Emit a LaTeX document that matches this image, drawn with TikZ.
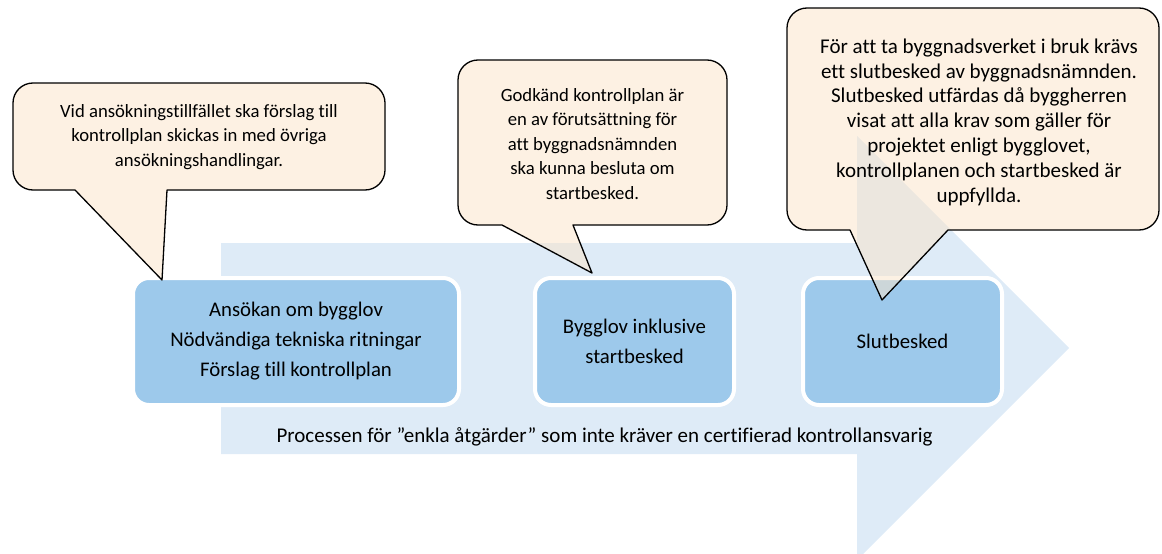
\documentclass[tikz,border=0pt]{standalone}
\usepackage{fontspec}
\setmainfont[Ligatures=NoCommon]{Carlito}
\definecolor{arrowblue}{HTML}{DEEBF7}
\definecolor{boxblue}{HTML}{9DC9EB}
\definecolor{cream}{RGB}{251,228,200}
\tikzset{
  stepbox/.style={draw=white, line width=4pt, fill=boxblue, rounded corners=16pt,
    align=center, font=\fontsize{20.8}{30}\selectfont, inner sep=0pt},
  bubble/.style={draw=black, line width=1.3pt, fill=cream, fill opacity=0.5, line join=round},
  bubbletext/.style={align=center, font=\fontsize{18.7}{24.5}\selectfont, inner sep=0pt},
}
% x1 y1 x2 y2 pointer-left pointer-right tip
\newcommand\bubblepath[7]{%
  \draw[bubble] (#5,#4) -- (#1+20,#4) arc[start angle=90,end angle=180,radius=20]
    -- (#1,#2+20) arc[start angle=180,end angle=270,radius=20]
    -- (#3-20,#2) arc[start angle=270,end angle=360,radius=20]
    -- (#3,#4-20) arc[start angle=0,end angle=90,radius=20]
    -- (#6,#4) -- (#7) -- cycle;}
\begin{document}
\begin{tikzpicture}[x=1pt,y=-1pt]
\useasboundingbox (0,0) rectangle (1162,554);
% big process arrow
\fill[arrowblue] (221,243) -- (857,243) -- (857,136) -- (1069,348) -- (857,560)
  -- (857,454) -- (221,454) -- cycle;
% step boxes
\node[stepbox, minimum width=326pt, minimum height=127pt] (s1) at (296,341.5)
  {Ansökan om bygglov\\Nödvändiga tekniska ritningar\\Förslag till kontrollplan};
\node[stepbox, minimum width=199pt, minimum height=127pt] (s2) at (634.5,341.5)
  {Bygglov inklusive\\startbesked};
\node[stepbox, minimum width=199pt, minimum height=127pt] (s3) at (902.5,341.5)
  {Slutbesked};
\node[font=\fontsize{21}{24}\selectfont, inner sep=0pt] (proc) at (604.5,437)
  {Processen för ”enkla åtgärder” som inte kräver en certifierad kontrollansvarig};
% callouts
\coordinate (t1) at (162,280);
\coordinate (t2) at (592,273);
\coordinate (t3) at (882,300);
\bubblepath{13}{83}{385}{190}{75}{167}{t1}
\bubblepath{458}{60}{727}{225}{502}{573}{t2}
\bubblepath{787}{8}{1159}{230}{850}{948}{t3}
\node[bubbletext] (c1) at (199,137)
  {Vid ansökningstillfället ska förslag till\\kontrollplan skickas in med övriga\\ansökningshandlingar.};
\node[bubbletext] (c2) at (592.5,144)
  {Godkänd kontrollplan är\\en av förutsättning för\\att byggnadsnämnden\\ska kunna besluta om\\startbesked.};
\node[bubbletext, font=\fontsize{21}{24.8}\selectfont] (c3) at (979,122)
  {För att ta byggnadsverket i bruk krävs\\ett slutbesked av byggnadsnämnden.\\Slutbesked utfärdas då byggherren\\visat att alla krav som gäller för\\projektet enligt bygglovet,\\kontrollplanen och startbesked är\\uppfyllda.};
\end{tikzpicture}
\end{document}
